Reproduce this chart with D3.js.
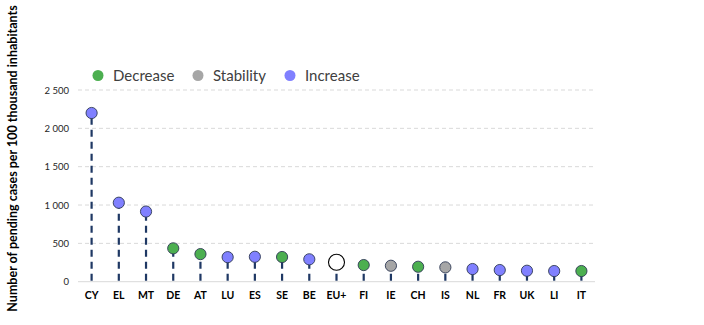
<!DOCTYPE html>
<html><head><meta charset="utf-8">
<script src="https://cdn.jsdelivr.net/npm/d3@7"></script>
<style>body{margin:0;background:#fff}svg{display:block}</style>
</head><body><svg id="c" width="704" height="325"></svg>
<script>
const categories = ["CY","EL","MT","DE","AT","LU","ES","SE","BE","EU+","FI","IE","CH","IS","NL","FR","UK","LI","IT"];
const values = [2200,1030,915,435,360,320,325,322,292,253,217,208,195,187,165,152,143,139,139];
const trends = ["Increase","Increase","Increase","Decrease","Decrease","Increase","Increase","Decrease","Increase","EU+","Decrease","Stability","Decrease","Stability","Increase","Increase","Increase","Increase","Decrease"];
const legendItems = ["Decrease","Stability","Increase"];
const yTicks = [0,500,1000,1500,2000,2500];
const yTitle = "Number of pending cases per 100 thousand inhabitants";

const colors = {Decrease:"#4caf50", Stability:"#a6a6a6", Increase:"#8080ff", "EU+":"#ffffff"};
const font = "Lato, 'Open Sans', sans-serif";
const svg = d3.select("#c");
const mLeft = 78, mRight = 595, mTop = 90, mBottom = 281.7;

const x = d3.scaleBand().domain(categories).range([mLeft, mRight]).padding(0);
const y = d3.scaleLinear().domain([0,2500]).range([mBottom, mTop]);

// gridlines
svg.append("g").selectAll("line").data(yTicks.filter(d=>d>0)).join("line")
  .attr("x1", mLeft).attr("x2", mRight).attr("y1", d=>y(d)).attr("y2", d=>y(d))
  .attr("stroke","#d9d9d9").attr("stroke-width",1).attr("stroke-dasharray","4,3");
svg.append("line").attr("x1",mLeft).attr("x2",mRight).attr("y1",y(0)).attr("y2",y(0))
  .attr("stroke","#d9d9d9").attr("stroke-width",1);

// y axis
const yAxis = svg.append("g").attr("transform",`translate(${mLeft},0)`)
  .call(d3.axisLeft(y).tickValues(yTicks).tickSize(0).tickPadding(9).tickFormat(d=>d3.format(",")(d).replace(/,/g," ")));
yAxis.select(".domain").remove();
yAxis.selectAll("text").attr("font-family",font).attr("font-size",9.5).attr("fill","#262626");

// x axis
const xAxis = svg.append("g").attr("transform",`translate(0,${y(0)})`)
  .call(d3.axisBottom(x).tickSize(0).tickPadding(10));
xAxis.select(".domain").remove();
xAxis.selectAll("text").attr("font-family",font).attr("font-size",10.5).attr("font-weight","bold").attr("fill","#000");

// stems
const data = categories.map((c,i)=>({c, v:values[i], t:trends[i]}));
svg.append("g").selectAll("line").data(data).join("line")
  .attr("x1", d=>x(d.c)+x.bandwidth()/2).attr("x2", d=>x(d.c)+x.bandwidth()/2)
  .attr("y1", y(0)-1).attr("y2", d=>y(d.v))
  .attr("stroke","#1f3864").attr("stroke-width",2.2).attr("stroke-dasharray","7,5");

// markers
svg.append("g").selectAll("circle").data(data).join("circle")
  .attr("cx", d=>x(d.c)+x.bandwidth()/2).attr("cy", d=>y(d.v))
  .attr("r", d=>d.t==="EU+"?8:5.6)
  .attr("fill", d=>colors[d.t])
  .attr("stroke", d=>d.t==="EU+"?"#000":"#2f3a55").attr("stroke-width", d=>d.t==="EU+"?1.1:0.9);

// legend
const lx = [98, 198, 290];
const lg = svg.append("g");
legendItems.forEach((k,i)=>{
  lg.append("circle").attr("cx",lx[i]).attr("cy",75.5).attr("r",5.5).attr("fill",colors[k]).attr("stroke","none");
  lg.append("text").attr("x",lx[i]+15).attr("y",80.5).text(k)
    .attr("font-family",font).attr("font-size",15).attr("fill","#404040");
});

// y title
svg.append("text").attr("transform","translate(17,158.5) rotate(-90)")
  .attr("text-anchor","middle").attr("font-family",font).attr("font-weight","bold")
  .attr("font-size",12.5).attr("fill","#000").text(yTitle);
</script></body></html>
